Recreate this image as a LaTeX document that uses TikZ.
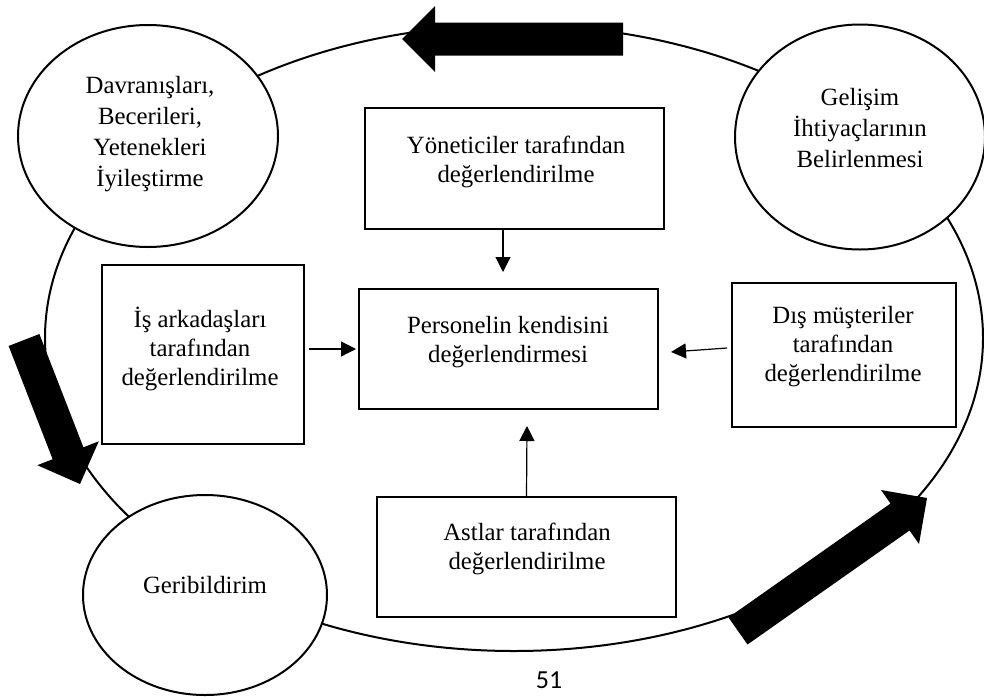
\documentclass[tikz,border=0pt]{standalone}
\usepackage{fontspec}
\setmainfont{Liberation Serif}
\newfontfamily\pagefont{Carlito}
\usetikzlibrary{calc,arrows.meta,shapes.geometric}
\newcommand\blockarrow[3]{%
  \coordinate (#3) at ($(#2)!33pt!(#1)$);
  \fill ($(#1)!16.5pt!90:(#2)$) -- ($(#3)!16.5pt!-90:(#1)$) -- ($(#3)!33pt!-90:(#1)$) -- (#2)
     -- ($(#3)!33pt!90:(#1)$) -- ($(#3)!16.5pt!90:(#1)$) -- ($(#1)!16.5pt!-90:(#2)$) -- cycle;}
\begin{document}
\begin{tikzpicture}[x=1pt,y=-1pt,
  ring/.style={ellipse,draw,line width=2pt,inner sep=0pt},
  stage/.style={ellipse,draw,line width=2pt,fill=white,inner sep=0pt},
  box/.style={rectangle,draw,line width=2pt,fill=white,inner sep=0pt},
  txt/.style={align=center,inner sep=0pt,font=\fontsize{24.8}{29}\selectfont},
  ctxt/.style={align=center,inner sep=0pt,font=\fontsize{24.8}{31}\selectfont},
  conn/.style={line width=1.2pt,-{Triangle[length=15pt,width=15pt]}}]
\useasboundingbox (0,0) rectangle (984,696);
% big cycle
\node[ring,minimum width=938pt,minimum height=626pt] (ring) at (514,338) {};
% stages
\node[stage,minimum width=260pt,minimum height=222pt] (imp) at (148,136) {};
\node[stage,minimum width=250pt,minimum height=225pt] (need) at (860,137) {};
\node[stage,minimum width=244pt,minimum height=200pt] (fb) at (205,595) {};
\node[ctxt] (impt) at (150,134.5) {Davranışları,\\Becerileri,\\Yetenekleri\\İyileştirme};
\node[ctxt] (needt) at (860,128.5) {Gelişim\\İhtiyaçlarının\\Belirlenmesi};
\node[ctxt] (fbt) at (205,585) {Geribildirim};
% boxes
\node[box,minimum width=299pt,minimum height=121pt] (yon) at (514.5,168.5) {};
\node[box,minimum width=299pt,minimum height=120pt] (pers) at (508.5,349) {};
\node[box,minimum width=299pt,minimum height=120pt] (ast) at (526.5,557) {};
\node[box,minimum width=202pt,minimum height=179pt] (is) at (203,354.5) {};
\node[box,minimum width=224pt,minimum height=144pt] (dis) at (844,355) {};
\node[txt] (yont) at (516,162) {Yöneticiler tarafından\\değerlendirilme};
\node[txt] (perst) at (508,342) {Personelin kendisini\\değerlendirmesi};
\node[txt] (astt) at (527,549) {Astlar tarafından\\değerlendirilme};
\node[txt] (ist) at (200,349) {İş arkadaşları\\tarafından\\değerlendirilme};
\node[txt] (dist) at (843,347) {Dış müşteriler\\tarafından\\değerlendirilme};
% connectors
\draw[conn] ($(yon.south)+(-11.5,0)$) -- ($(pers.north)+(-5.5,-16)$);
\draw[conn] ($(is.east)+(4,-5.5)$) -- ($(pers.west)+(-2,0)$);
\draw[conn] ($(dis.west)+(-4,-7)$) -- ($(pers.east)+(12,3)$);
\draw[conn] (ast.north) -- ($(pers.south)+(18.5,16)$);
% block arrows on the cycle
\coordinate (tA) at (623,39); \coordinate (pA) at (402,39);
\coordinate (tB) at (24,340); \coordinate (pB) at (80,484);
\coordinate (tC) at (738,631); \coordinate (pC) at (927,498);
\blockarrow{tA}{pA}{hA}
\blockarrow{tB}{pB}{hB}
\blockarrow{tC}{pC}{hC}
% page number
\node[font=\pagefont\fontsize{26}{28}\selectfont,anchor=base,inner sep=0pt] (pg) at (549,688) {51};
\end{tikzpicture}
\end{document}
